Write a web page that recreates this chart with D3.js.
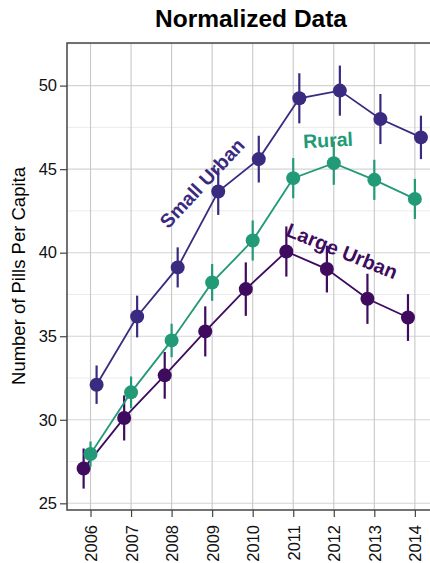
<!DOCTYPE html>
<html>
<head>
<meta charset="utf-8">
<script src="https://cdn.jsdelivr.net/npm/d3@7"></script>
<style>
  html, body { margin: 0; padding: 0; background: #fff; }
  svg { display: block; font-family: "Liberation Sans", Arial, sans-serif; }
</style>
</head>
<body>
<svg id="chart" width="430" height="563"></svg>
<script>
// ---- data ----
const years = [2006, 2007, 2008, 2009, 2010, 2011, 2012, 2013, 2014];
const largeUrban    = [27.08, 30.11, 32.66, 35.29, 37.82, 40.07, 39.02, 37.24, 36.12];
const largeUrbanErr = [1.2, 1.35, 1.4, 1.5, 1.6, 1.5, 1.4, 1.5, 1.4];
const rural         = [27.95, 31.64, 34.75, 38.22, 40.73, 44.46, 45.36, 44.36, 43.22];
const ruralErr      = [0.75, 0.95, 1.0, 1.1, 1.2, 1.2, 1.3, 1.2, 1.2];
const smallUrban    = [32.1, 36.18, 39.12, 43.66, 45.6, 49.24, 49.7, 48.0, 46.9];
const smallUrbanErr = [1.15, 1.25, 1.2, 1.4, 1.4, 1.5, 1.5, 1.5, 1.3];
const yTicks = [25, 30, 35, 40, 45, 50];
const yMinor = [27.5, 32.5, 37.5, 42.5, 47.5, 52.5];
const seriesNames = ["Large Urban", "Rural", "Small Urban"];

const colors = { "Large Urban": "#3e0b5e", "Rural": "#229a78", "Small Urban": "#3a2b80" };
const dodge = { "Large Urban": -0.17, "Rural": 0, "Small Urban": 0.15 };

const series = [
  { name: "Large Urban", values: largeUrban, err: largeUrbanErr },
  { name: "Rural", values: rural, err: ruralErr },
  { name: "Small Urban", values: smallUrban, err: smallUrbanErr }
];

// ---- layout ----
const svg = d3.select("#chart");
const L = 67, R = 440, T = 43, B = 510;

const x = d3.scaleLinear().domain([2005.42, 2014.62]).range([L, R]);
const y = d3.scaleLinear().domain([24.6, 52.55]).range([B, T]);

// clip
svg.append("defs").append("clipPath").attr("id", "clip")
  .append("rect").attr("x", L).attr("y", T).attr("width", R - L).attr("height", B - T);

// grid
const grid = svg.append("g");
grid.selectAll(".ymin").data(yMinor).join("line")
  .attr("x1", L).attr("x2", R).attr("y1", d => y(d)).attr("y2", d => y(d))
  .attr("stroke", "#ebebeb").attr("stroke-width", 1);
grid.selectAll(".ymaj").data(yTicks).join("line")
  .attr("x1", L).attr("x2", R).attr("y1", d => y(d)).attr("y2", d => y(d))
  .attr("stroke", "#d4d4d4").attr("stroke-width", 1.1);
grid.selectAll(".xmaj").data(years).join("line")
  .attr("x1", d => x(d)).attr("x2", d => x(d)).attr("y1", T).attr("y2", B)
  .attr("stroke", "#c8c8c8").attr("stroke-width", 1.1);

// layers
const plot = svg.append("g").attr("clip-path", "url(#clip)");
const line = d3.line().x(d => x(d.year)).y(d => y(d.v));

series.forEach(s => {
  const pts = years.map((yr, i) => ({ year: yr + dodge[s.name], v: s.values[i], e: s.err[i] }));
  const g = plot.append("g");
  g.append("path").datum(pts).attr("d", line)
    .attr("fill", "none").attr("stroke", colors[s.name]).attr("stroke-width", 1.8);
  g.selectAll(".err").data(pts).join("line")
    .attr("x1", d => x(d.year)).attr("x2", d => x(d.year))
    .attr("y1", d => y(d.v - d.e)).attr("y2", d => y(d.v + d.e))
    .attr("stroke", colors[s.name]).attr("stroke-width", 2.2);
  g.selectAll(".pt").data(pts).join("circle")
    .attr("cx", d => x(d.year)).attr("cy", d => y(d.v)).attr("r", 7)
    .attr("fill", colors[s.name]);
});

// panel border
svg.append("rect").attr("x", L).attr("y", T).attr("width", R - L).attr("height", B - T)
  .attr("fill", "none").attr("stroke", "#444").attr("stroke-width", 1.5);

// axes
const yAxis = d3.axisLeft(y).tickValues(yTicks).tickSize(7).tickPadding(3).tickFormat(d3.format("d"));
const yg = svg.append("g").attr("transform", `translate(${L},0)`).call(yAxis);
yg.select(".domain").remove();
yg.selectAll(".tick line").attr("stroke", "#444").attr("stroke-width", 1.2);
yg.selectAll(".tick text").attr("font-size", 16.5).attr("fill", "#111")
  .attr("font-family", "Liberation Sans, Arial, sans-serif");

const xAxis = d3.axisBottom(x).tickValues(years).tickSize(7).tickFormat(d3.format("d"));
const xg = svg.append("g").attr("transform", `translate(0,${B})`).call(xAxis);
xg.select(".domain").remove();
xg.selectAll(".tick line").attr("stroke", "#444").attr("stroke-width", 1.2);
xg.selectAll(".tick text")
  .attr("font-size", 16.5).attr("fill", "#111")
  .attr("font-family", "Liberation Sans, Arial, sans-serif")
  .attr("text-anchor", "end").attr("dy", null)
  .attr("dominant-baseline", "central")
  .attr("transform", "translate(0,7) rotate(-90)")
  .attr("x", -8).attr("y", 0);

// title
svg.append("text").attr("x", 251).attr("y", 27).attr("text-anchor", "middle")
  .attr("font-size", 24.5).attr("font-weight", "bold").attr("fill", "#000")
  .text("Normalized Data");

// y title
svg.append("text").attr("transform", "translate(25,276) rotate(-90)")
  .attr("text-anchor", "middle").attr("font-size", 18.5).attr("fill", "#000")
  .text("Number of Pills Per Capita");

// series labels
const labels = [
  { name: "Small Urban", cx: 202, cy: 183, rot: -47, size: 19.5 },
  { name: "Rural", cx: 328, cy: 140, rot: -3, size: 19.5 },
  { name: "Large Urban", cx: 342, cy: 251, rot: 22, size: 20 }
];
svg.selectAll(".lab").data(labels).join("text")
  .attr("transform", d => `translate(${d.cx},${d.cy}) rotate(${d.rot})`)
  .attr("text-anchor", "middle").attr("dominant-baseline", "central")
  .attr("font-size", d => d.size).attr("font-weight", "bold")
  .attr("fill", d => colors[d.name])
  .text(d => d.name);
</script>
</body>
</html>
